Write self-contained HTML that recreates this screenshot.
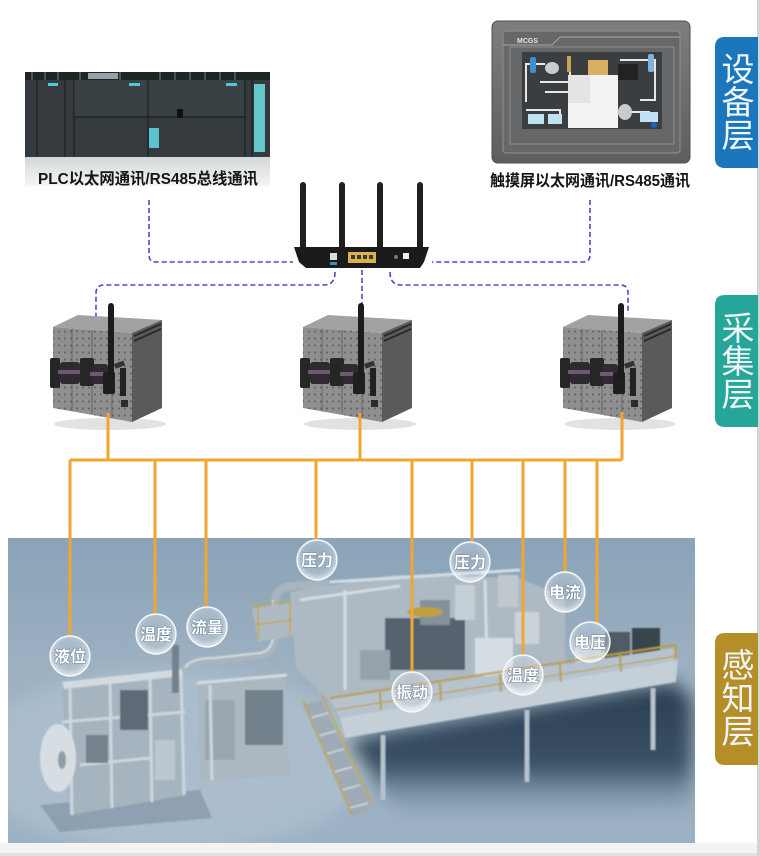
<!DOCTYPE html>
<html><head><meta charset="utf-8">
<style>
html,body{margin:0;padding:0;background:#fff;}
svg{display:block}
text{font-family:"Liberation Sans","Noto Sans CJK SC",sans-serif;}
</style></head><body>
<svg width="760" height="856" viewBox="0 0 760 856" xmlns="http://www.w3.org/2000/svg">
<defs>
  <clipPath id="photo"><rect x="8" y="538" width="687" height="305"/></clipPath>
  <linearGradient id="bg" x1="0" y1="0" x2="0" y2="1">
    <stop offset="0" stop-color="#8aa3b8"/>
    <stop offset="0.45" stop-color="#9db1c2"/>
    <stop offset="1" stop-color="#9cb2c4"/>
  </linearGradient>
  <linearGradient id="under" x1="0" y1="0" x2="0" y2="1">
    <stop offset="0" stop-color="#2a3d50"/>
    <stop offset="0.6" stop-color="#3a5166"/>
    <stop offset="1" stop-color="#7f9bb2" stop-opacity="0"/>
  </linearGradient>
  <radialGradient id="bub" cx="0.5" cy="0.45" r="0.55">
    <stop offset="0" stop-color="#fff" stop-opacity="0.08"/>
    <stop offset="0.7" stop-color="#fff" stop-opacity="0.22"/>
    <stop offset="1" stop-color="#fff" stop-opacity="0.7"/>
  </radialGradient>
  <linearGradient id="hmi" x1="0" y1="0" x2="0" y2="1">
    <stop offset="0" stop-color="#7c7e80"/>
    <stop offset="1" stop-color="#5c5e60"/>
  </linearGradient>
  <linearGradient id="refl" x1="0" y1="0" x2="0" y2="1">
    <stop offset="0" stop-color="#d4d7d9"/>
    <stop offset="1" stop-color="#f4f4f4"/>
  </linearGradient>
  <filter id="soft" x="-5%" y="-5%" width="110%" height="110%"><feGaussianBlur stdDeviation="0.8"/></filter>
  <filter id="blur8" x="-20%" y="-20%" width="140%" height="140%"><feGaussianBlur stdDeviation="9"/></filter>
  <pattern id="dots" width="6" height="7" patternUnits="userSpaceOnUse">
    <circle cx="3" cy="3.5" r="1.1" fill="#4a4a4a"/>
  </pattern>
  <g id="gw">
    <ellipse cx="60" cy="124" rx="56" ry="6" fill="#e2e2e2"/>
    <polygon points="3,27 28,15 112,20 82,33" fill="#a2a2a2"/>
    <polygon points="3,27 82,33 82,122 3,108" fill="#8f8f8f"/>
    <polygon points="3,27 82,33 82,122 3,108" fill="url(#dots)" opacity="0.6"/>
    <line x1="22" y1="29" x2="22" y2="111" stroke="#666" stroke-width="1"/>
    <line x1="42" y1="30" x2="42" y2="114" stroke="#666" stroke-width="1"/>
    <line x1="62" y1="32" x2="62" y2="118" stroke="#666" stroke-width="1"/>
    <polygon points="82,33 112,20 112,108 82,122" fill="#5a5a5a"/>
    <line x1="84" y1="36" x2="111" y2="24" stroke="#2a2a2a" stroke-width="2"/>
    <line x1="84" y1="41" x2="111" y2="29" stroke="#2a2a2a" stroke-width="2"/>
    <rect x="70" y="68" width="6" height="28" fill="#222"/>
    <rect x="71" y="100" width="7" height="7" fill="#2b2b2b"/>
    <rect x="0" y="58" width="10" height="30" rx="2" fill="#262626"/>
    <rect x="10" y="62" width="20" height="22" rx="3" fill="#2e2a30"/>
    <rect x="8" y="70" width="24" height="4" fill="#6e5874"/>
    <rect x="30" y="58" width="14" height="28" rx="2" fill="#262626"/>
    <rect x="42" y="64" width="16" height="20" rx="3" fill="#2e2a30"/>
    <rect x="40" y="72" width="20" height="4" fill="#6e5874"/>
    <rect x="53" y="72" width="12" height="22" rx="2" fill="#1f1f1f"/>
    <rect x="58" y="3" width="6" height="76" rx="3" fill="#1c1c1c"/>
    <rect x="64" y="64" width="10" height="5" fill="#333" transform="rotate(-20 64 64)"/>
  </g>
</defs>

<!-- right border -->
<rect x="757" y="0" width="3" height="856" fill="#d2d6d9"/>

<!-- ============ PLC ============ -->
<rect x="25" y="157" width="245" height="29" fill="url(#refl)"/>
<rect x="25" y="72" width="245" height="85" fill="#343a3e"/>
<rect x="25" y="72" width="245" height="8" fill="#1f2427"/>
<g stroke="#4a5256" stroke-width="2">
  <line x1="32" y1="72" x2="32" y2="80"/><line x1="45" y1="72" x2="45" y2="80"/><line x1="58" y1="72" x2="58" y2="80"/>
  <line x1="80" y1="72" x2="80" y2="80"/><line x1="120" y1="72" x2="120" y2="80"/><line x1="160" y1="72" x2="160" y2="80"/>
  <line x1="175" y1="72" x2="175" y2="80"/><line x1="190" y1="72" x2="190" y2="80"/><line x1="205" y1="72" x2="205" y2="80"/>
  <line x1="220" y1="72" x2="220" y2="80"/><line x1="235" y1="72" x2="235" y2="80"/>
</g>
<rect x="88" y="73" width="30" height="6" fill="#9aa0a4"/>
<rect x="74" y="80" width="171" height="37" fill="#3a4145"/>
<g stroke="#1c2023" stroke-width="1.2">
  <line x1="37" y1="80" x2="37" y2="157"/><line x1="65" y1="80" x2="65" y2="157"/>
  <line x1="74" y1="80" x2="74" y2="157"/><line x1="148" y1="80" x2="148" y2="157"/>
  <line x1="245" y1="80" x2="245" y2="157"/><line x1="252" y1="80" x2="252" y2="157"/>
  <line x1="74" y1="117" x2="245" y2="117"/>
</g>
<rect x="48" y="83" width="10" height="3" fill="#4fc7d6"/>
<rect x="129" y="83" width="11" height="3" fill="#4fc7d6"/>
<rect x="226" y="83" width="11" height="3" fill="#4fc7d6"/>
<rect x="254" y="84" width="11" height="68" fill="#62c8cb"/>
<rect x="149" y="128" width="10" height="20" fill="#5cc3cc"/>
<rect x="177" y="109" width="6" height="9" fill="#111"/>
<text x="148" y="184" font-size="16" font-weight="bold" fill="#151515" text-anchor="middle" textLength="220" lengthAdjust="spacingAndGlyphs">PLC以太网通讯/RS485总线通讯</text>

<!-- ============ HMI ============ -->
<rect x="492" y="21" width="198" height="142" rx="6" fill="url(#hmi)" stroke="#4d4f51"/>
<rect x="503" y="31" width="177" height="122" rx="3" fill="#656769" stroke="#8e9092"/>
<path d="M503,45 H552 L560,37 H680" stroke="#a2a4a6" fill="none" stroke-width="1"/>
<text x="517" y="43" font-size="7" font-weight="bold" fill="#e8e8e8">MCGS</text>
<rect x="510" y="47" width="164" height="97" fill="none" stroke="#8a8c8e" stroke-width="1"/>
<rect x="522" y="52" width="140" height="77" fill="#3b3e41"/>
<g stroke="#e6e6e6" stroke-width="2" fill="none">
  <path d="M526,102 V64 H545"/><path d="M540,82 H570 V70"/><path d="M545,92 H600"/>
  <path d="M620,60 H655 V100 H640"/><path d="M526,110 H560 V120"/><path d="M610,112 H650"/>
</g>
<rect x="530" y="57" width="6" height="16" rx="2" fill="#3f8fcf"/>
<ellipse cx="552" cy="68" rx="7" ry="6" fill="#c9cccd"/>
<rect x="567" y="56" width="4" height="16" fill="#c9a355"/>
<rect x="588" y="60" width="20" height="15" fill="#d9b061"/>
<rect x="618" y="64" width="20" height="16" fill="#222"/>
<rect x="648" y="54" width="6" height="18" rx="2" fill="#7fb3db"/>
<rect x="528" y="114" width="16" height="10" fill="#bfe3f2"/>
<rect x="548" y="114" width="14" height="10" fill="#bfe3f2"/>
<ellipse cx="580" cy="110" rx="8" ry="9" fill="#2a8aa0"/>
<rect x="568" y="75" width="50" height="53" fill="#f3f3f3"/>
<rect x="568" y="75" width="22" height="28" fill="#e4e4e4"/>
<ellipse cx="625" cy="112" rx="7" ry="8" fill="#c9cccd"/>
<rect x="640" y="112" width="18" height="10" fill="#bfe3f2"/>
<circle cx="654" cy="125" r="3" fill="#1f5fbf"/>
<text x="590" y="186" font-size="16" font-weight="bold" fill="#151515" text-anchor="middle" textLength="200" lengthAdjust="spacingAndGlyphs">触摸屏以太网通讯/RS485通讯</text>

<!-- ============ dashed network ============ -->
<g stroke="#4949c6" stroke-width="1.6" fill="none" stroke-dasharray="5,3">
  <path d="M149,200 V255 Q149,262 156,262 H293"/>
  <path d="M590,200 V255 Q590,262 583,262 H432"/>
  <path d="M335,272 Q335,285 324,285 H104 Q96,285 96,293 V317"/>
  <path d="M362,270 V304"/>
  <path d="M390,272 Q390,285 401,285 H620 Q628,285 628,293 V314"/>
</g>

<!-- ============ Router ============ -->
<g fill="#202020">
  <rect x="300" y="182" width="6" height="68" rx="3"/>
  <rect x="339" y="182" width="6" height="68" rx="3"/>
  <rect x="377" y="182" width="6" height="68" rx="3"/>
  <rect x="417" y="182" width="6" height="68" rx="3"/>
</g>
<polygon points="294,247 429,247 424,262 420,268 306,268 299,262" fill="#1b1b1b"/>
<rect x="330" y="253" width="7" height="7" fill="#dcdcdc"/>
<rect x="330" y="262" width="7" height="3" fill="#3a8ec8"/>
<rect x="348" y="252" width="28" height="11" fill="#d8b24a"/>
<g fill="#3a3a3a"><rect x="351" y="255" width="4" height="4"/><rect x="357" y="255" width="4" height="4"/><rect x="363" y="255" width="4" height="4"/><rect x="369" y="255" width="4" height="4"/></g>
<circle cx="396" cy="257" r="2" fill="#777"/>
<rect x="403" y="253" width="6" height="6" fill="#eee"/>

<!-- ============ Gateways ============ -->
<use href="#gw" x="50" y="300"/>
<use href="#gw" x="300" y="300"/>
<use href="#gw" x="560" y="300"/>

<!-- ============ Factory ============ -->
<g clip-path="url(#photo)">
<rect x="8" y="538" width="687" height="305" fill="url(#bg)"/>
<g filter="url(#blur8)">
  <ellipse cx="170" cy="760" rx="200" ry="90" fill="#bccbd7" opacity="0.45"/>
  <polygon points="345,740 675,682 692,700 692,812 560,822 400,818" fill="url(#under)"/>
</g>
<g filter="url(#soft)">
  <!-- left machine -->
  <polygon points="40,805 200,790 212,818 60,832" fill="#6f8396" opacity="0.5"/>
  <polygon points="62,688 180,675 186,795 70,815" fill="#a6b4bf"/>
  <polygon points="62,682 182,669 183,676 64,689" fill="#d3dbe1"/>
  <g stroke="#cdd6dd" stroke-width="3">
    <line x1="70" y1="688" x2="72" y2="815"/><line x1="110" y1="683" x2="112" y2="808"/>
    <line x1="150" y1="678" x2="152" y2="802"/><line x1="181" y1="675" x2="184" y2="795"/>
    <line x1="62" y1="722" x2="185" y2="712"/><line x1="80" y1="765" x2="150" y2="758"/>
  </g>
  <rect x="120" y="690" width="28" height="40" fill="#5e6b76"/>
  <rect x="86" y="735" width="22" height="28" fill="#75828d"/>
  <rect x="155" y="740" width="20" height="40" fill="#bcc7cf"/>
  <ellipse cx="58" cy="758" rx="18" ry="34" fill="#d6dee4"/>
  <ellipse cx="62" cy="760" rx="4" ry="9" fill="#8f9ca6"/>
  <rect x="172" y="645" width="7" height="48" fill="#74818c"/>
  <!-- middle machine -->
  <polygon points="197,683 285,675 290,775 200,782" fill="#abb8c2"/>
  <rect x="245" y="690" width="38" height="55" fill="#71808b"/>
  <rect x="205" y="700" width="30" height="60" fill="#9aa7b1"/>
  <line x1="197" y1="683" x2="287" y2="675" stroke="#d3dbe1" stroke-width="3"/>
  <line x1="210" y1="685" x2="212" y2="780" stroke="#cdd6dd" stroke-width="3"/>
  <!-- duct -->
  <path d="M185,670 Q190,660 215,660 L260,655 Q275,652 275,635 L275,600 Q276,588 292,586 L330,584" stroke="#a8b5bf" stroke-width="8" fill="none"/>
  <path d="M185,668 Q190,658 215,658 L260,653 Q273,650 273,635 L273,600" stroke="#d2dae0" stroke-width="2" fill="none"/>
  <!-- upper-left platform -->
  <polygon points="252,608 330,598 335,628 258,642" fill="#adbac4"/>
  <g stroke="#c2a742" stroke-width="1.5">
    <line x1="252" y1="606" x2="330" y2="596"/><line x1="255" y1="625" x2="333" y2="614"/>
    <line x1="258" y1="606" x2="258" y2="640"/><line x1="290" y1="602" x2="290" y2="636"/>
  </g>
  <!-- central machinery -->
  <polygon points="290,592 395,575 520,578 565,598 565,690 400,706 330,702 296,668" fill="#adbac4"/>
  <g stroke="#d4dce2" stroke-width="3">
    <line x1="330" y1="582" x2="520" y2="570"/><line x1="300" y1="600" x2="400" y2="586"/>
    <line x1="345" y1="590" x2="345" y2="690"/><line x1="485" y1="580" x2="487" y2="660"/>
  </g>
  <rect x="385" y="618" width="80" height="52" fill="#56636e"/>
  <rect x="420" y="600" width="30" height="25" fill="#84909a"/>
  <ellipse cx="425" cy="612" rx="18" ry="5" fill="#bfa03d"/>
  <rect x="455" y="585" width="20" height="35" fill="#c6ced5"/>
  <rect x="498" y="575" width="20" height="32" fill="#bfc8cf"/>
  <rect x="475" y="638" width="38" height="38" fill="#d6dde2"/>
  <rect x="515" y="612" width="24" height="32" fill="#cbd3d9"/>
  <rect x="360" y="650" width="30" height="30" fill="#95a2ac"/>
  <!-- right units -->
  <rect x="575" y="640" width="26" height="30" fill="#c6ced5"/>
  <rect x="605" y="632" width="25" height="35" fill="#4e5b66"/>
  <rect x="632" y="628" width="28" height="38" fill="#39444e"/>
  <!-- platform -->
  <polygon points="330,700 560,665 675,648 678,660 340,718" fill="#b6c3cd"/>
  <polygon points="340,718 678,660 676,682 345,738" fill="#c4cfd7"/>
  <g stroke="#bd9d38" stroke-width="2">
    <line x1="330" y1="698" x2="675" y2="645"/>
    <line x1="335" y1="710" x2="677" y2="656" stroke-width="1.2"/>
    <line x1="380" y1="692" x2="381" y2="710"/><line x1="440" y1="683" x2="441" y2="701"/>
    <line x1="500" y1="674" x2="501" y2="692"/><line x1="560" y1="664" x2="561" y2="682"/>
    <line x1="620" y1="654" x2="621" y2="672"/><line x1="675" y1="645" x2="676" y2="660"/>
  </g>
  <g stroke="#b5c2cc" stroke-width="5">
    <line x1="383" y1="735" x2="383" y2="800"/>
    <line x1="527" y1="710" x2="527" y2="782"/>
    <line x1="653" y1="688" x2="653" y2="750"/>
  </g>
  <!-- stairs -->
  <polygon points="303,705 322,700 372,808 352,818" fill="#9eabb6"/>
  <g stroke="#d0d8de" stroke-width="1.5">
    <line x1="310" y1="718" x2="328" y2="713"/><line x1="318" y1="736" x2="336" y2="731"/>
    <line x1="326" y1="754" x2="344" y2="749"/><line x1="334" y1="772" x2="352" y2="767"/>
    <line x1="342" y1="790" x2="360" y2="785"/><line x1="350" y1="808" x2="368" y2="803"/>
  </g>
  <g stroke="#c2a742" stroke-width="1.6">
    <line x1="303" y1="700" x2="352" y2="814"/><line x1="322" y1="695" x2="372" y2="804"/>
  </g>
</g>
</g>
<!-- bottom strip -->
<rect x="0" y="843" width="757" height="13" fill="#f3f3f3"/>
<rect x="0" y="853" width="757" height="3" fill="#e2e2e2"/>

<!-- ============ Orange bus ============ -->
<g stroke="#f1a633" stroke-width="3" fill="none">
  <path d="M108,413 V460"/><path d="M360,413 V460"/><path d="M622,412 V460"/>
  <path d="M70,460 H622"/>
  <path d="M70,460 V636"/><path d="M155,460 V614"/><path d="M206,460 V607"/>
  <path d="M316,460 V540"/><path d="M412,460 V672"/><path d="M472,460 V542"/>
  <path d="M523,460 V655"/><path d="M565,460 V572"/><path d="M597,460 V623"/>
</g>

<!-- ============ Bubbles ============ -->
<g font-size="16" font-weight="bold" fill="#fff" text-anchor="middle" stroke="#6f8499" stroke-width="1" paint-order="stroke">
  <g><circle cx="70" cy="656" r="20" fill="url(#bub)" stroke="#f2f6f9" stroke-width="1.4"/><text x="70" y="662">液位</text></g>
  <g><circle cx="156" cy="634" r="20" fill="url(#bub)" stroke="#f2f6f9" stroke-width="1.4"/><text x="156" y="640">温度</text></g>
  <g><circle cx="207" cy="627" r="20" fill="url(#bub)" stroke="#f2f6f9" stroke-width="1.4"/><text x="207" y="633">流量</text></g>
  <g><circle cx="317" cy="560" r="20" fill="url(#bub)" stroke="#f2f6f9" stroke-width="1.4"/><text x="317" y="566">压力</text></g>
  <g><circle cx="412" cy="692" r="20" fill="url(#bub)" stroke="#f2f6f9" stroke-width="1.4"/><text x="412" y="698">振动</text></g>
  <g><circle cx="470" cy="562" r="20" fill="url(#bub)" stroke="#f2f6f9" stroke-width="1.4"/><text x="470" y="568">压力</text></g>
  <g><circle cx="523" cy="675" r="20" fill="url(#bub)" stroke="#f2f6f9" stroke-width="1.4"/><text x="523" y="681">温度</text></g>
  <g><circle cx="565" cy="592" r="20" fill="url(#bub)" stroke="#f2f6f9" stroke-width="1.4"/><text x="565" y="598">电流</text></g>
  <g><circle cx="590" cy="642" r="20" fill="url(#bub)" stroke="#f2f6f9" stroke-width="1.4"/><text x="590" y="648">电压</text></g>
</g>

<!-- ============ Layer labels ============ -->
<path d="M758,37 H725 Q715,37 715,47 V158 Q715,168 725,168 H758 Z" fill="#1c76bc"/>
<path d="M758,295 H725 Q715,295 715,305 V417 Q715,427 725,427 H758 Z" fill="#25a698"/>
<path d="M758,633 H725 Q715,633 715,643 V755 Q715,765 725,765 H758 Z" fill="#b58e28"/>
<g font-size="33" fill="#eef5f8" text-anchor="middle" style="font-family:'Noto Sans CJK SC','WenQuanYi Zen Hei',sans-serif">
  <text x="738" y="81">设</text><text x="738" y="114">备</text><text x="738" y="147">层</text>
  <text x="738" y="340">采</text><text x="738" y="373">集</text><text x="738" y="406">层</text>
  <text x="738" y="677">感</text><text x="738" y="710">知</text><text x="738" y="743">层</text>
</g>
</svg>
</body></html>
